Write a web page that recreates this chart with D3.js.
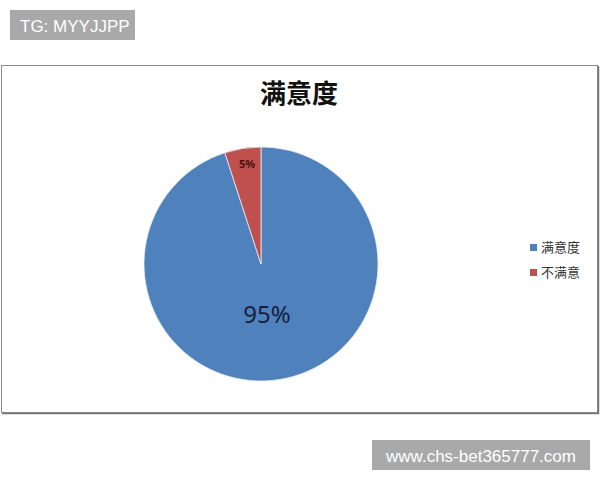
<!DOCTYPE html>
<html lang="zh">
<head>
<meta charset="UTF-8">
<title>满意度</title>
<script src="https://d3js.org/d3.v7.min.js"></script>
<style>
  html, body { margin: 0; padding: 0; background: #fff; }
  svg { display: block; }
</style>
</head>
<body>
<svg width="600" height="480"></svg>
<script>
// data
const categories = ["满意度", "不满意"];
const values = [95, 5];
const labels = ["95%", "5%"];
const colors = ["#4F81BD", "#C0504D"];

const svg = d3.select("svg");
const cjk = "'Noto Sans CJK SC', 'Noto Sans', sans-serif";
const wmFont = "'Liberation Sans', Arial, sans-serif";

// watermark box top-left
svg.append("rect").attr("x", 10).attr("y", 10).attr("width", 125).attr("height", 30)
    .attr("fill", "#a9a9a9");
svg.append("text").attr("x", 20).attr("y", 31.5)
    .attr("font-family", wmFont).attr("font-size", 17)
    .attr("fill", "#fff").text("TG: MYYJJPP");

// chart frame
svg.append("rect").attr("x", 1.5).attr("y", 65.5).attr("width", 596).attr("height", 347)
    .attr("fill", "#fff").attr("stroke", "#8a8a8a").attr("stroke-width", 1);
svg.append("path").attr("d", "M2,413.5H598.5V66")
    .attr("fill", "none").attr("stroke", "#777").attr("stroke-width", 1.5);

// title
svg.append("text").attr("x", 299).attr("y", 103).attr("text-anchor", "middle")
    .attr("font-family", cjk).attr("font-size", 26).attr("font-weight", "bold")
    .attr("fill", "#111").text("满意度");

// pie
const cx = 261, cy = 264, r = 117;
const pie = d3.pie().sort(null).value(d => d)
    .startAngle(0).endAngle(2 * Math.PI);
const arcs = pie(values);
const arc = d3.arc().innerRadius(0).outerRadius(r);

const g = svg.append("g").attr("transform", `translate(${cx},${cy})`);
g.selectAll("path").data(arcs).enter().append("path")
    .attr("d", arc)
    .attr("fill", (d, i) => colors[i])
    .attr("stroke", "#e8eef6").attr("stroke-width", 0.8);

// data labels
const labelPos = [[6, 53], [-14, -99]];
const labelSize = [24, 11];
const labelColor = ["#14213d", "#4a1010"];
g.selectAll("text.lbl").data(arcs).enter().append("text")
    .attr("class", "lbl")
    .attr("x", (d, i) => labelPos[i][0])
    .attr("y", (d, i) => labelPos[i][1])
    .attr("text-anchor", "middle").attr("dominant-baseline", "middle")
    .attr("font-family", "'Noto Sans', 'DejaVu Sans', sans-serif")
    .attr("font-size", (d, i) => labelSize[i])
    .attr("font-weight", (d, i) => i === 1 ? "bold" : "normal")
    .attr("fill", (d, i) => labelColor[i])
    .text((d, i) => labels[i]);

// legend
const legend = svg.append("g").attr("transform", "translate(530,248)");
const item = legend.selectAll("g").data(categories).enter().append("g")
    .attr("transform", (d, i) => `translate(0,${i * 25})`);
item.append("rect").attr("x", 0).attr("y", -4).attr("width", 7).attr("height", 7)
    .attr("fill", (d, i) => colors[i]);
item.append("text").attr("x", 11).attr("y", 0).attr("dominant-baseline", "middle")
    .attr("font-family", cjk).attr("font-size", 13).attr("fill", "#333")
    .text(d => d);

// watermark box bottom-right
svg.append("rect").attr("x", 372).attr("y", 440).attr("width", 218).attr("height", 30)
    .attr("fill", "#a9a9a9");
svg.append("text").attr("x", 481).attr("y", 461.5).attr("text-anchor", "middle")
    .attr("font-family", wmFont).attr("font-size", 17)
    .attr("fill", "#fff").text("www.chs-bet365777.com");
</script>
</body>
</html>
